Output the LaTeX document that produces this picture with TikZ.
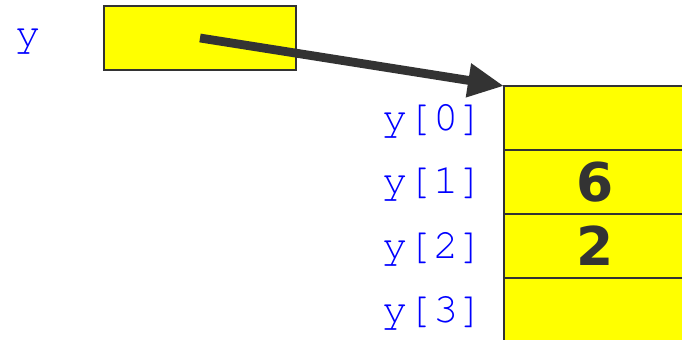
\documentclass[tikz,border=0pt]{standalone}
\usepackage{fontspec}
\newfontfamily\digitfont{DejaVu Sans}
\newfontfamily\codefont{TeX Gyre Cursor}
\usetikzlibrary{arrows.meta}
\definecolor{boxyellow}{RGB}{255,255,0}
\definecolor{edgegray}{RGB}{51,51,51}

\begin{document}
\begin{tikzpicture}[x=0.025cm,y=-0.025cm,
  cell/.style={draw=edgegray,line width=0.05cm,fill=boxyellow,minimum width=4.55cm,minimum height=1.6cm,inner sep=0pt,outer sep=0pt},
  lbl/.style={text=blue,font=\fontsize{30}{36}\selectfont\codefont,inner sep=0pt},
  val/.style={text=edgegray,font=\fontsize{38}{44}\selectfont\digitfont\bfseries},
  ptr/.style={draw=edgegray,line width=0.22cm,-{Triangle[length=0.9cm,width=0.8cm]}}]
				\clip (0,0) rectangle (682,340);
				% the variable y
				\node[lbl] (yname) at (28,42) {y};
				\node[cell,minimum width=4.8cm] (yvar) at (200,38) {};
				% the array
				\node[cell] (c0) at (595,118) {};
				\node[cell,val] (c1) at (595,182) {6};
				\node[cell,val] (c2) at (595,246) {2};
				\node[cell] (c3) at (595,310) {};
				\node[lbl,anchor=east] (l0) at (484,121) {y[0]};
				\node[lbl,anchor=east] (l1) at (484,185) {y[1]};
				\node[lbl,anchor=east] (l2) at (484,249) {y[2]};
				\node[lbl,anchor=east] (l3) at (484,313) {y[3]};
				\draw[ptr] (yvar.center) -- (c0.north west);
			\end{tikzpicture}
\end{document}
